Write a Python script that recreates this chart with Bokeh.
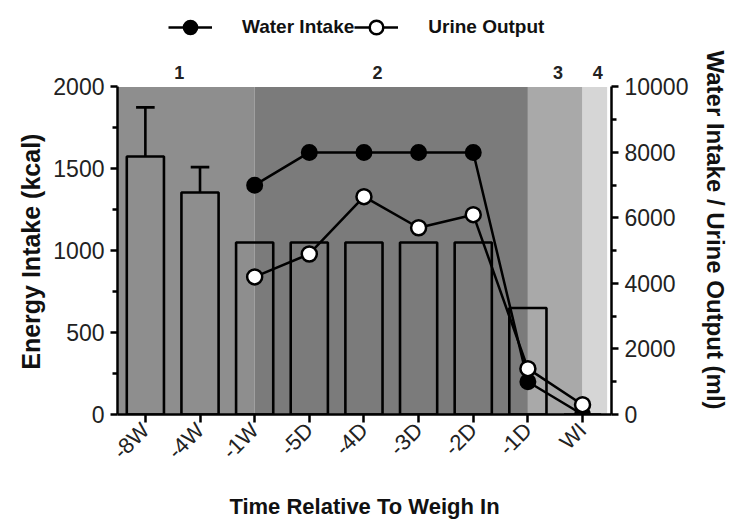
import math
from bokeh.plotting import figure
from bokeh.models import Range1d, LinearAxis, FixedTicker, Legend, LegendItem, Title
from bokeh.core.properties import value
from bokeh.embed import file_html
from bokeh.resources import INLINE

# ---------------- data ----------------
categories = ["-8W", "-4W", "-1W", "-5D", "-4D", "-3D", "-2D", "-1D", "WI"]
energy_kcal = [1575, 1355, 1050, 1050, 1050, 1050, 1050, 650, 0]
energy_err_top = [1875, 1510, None, None, None, None, None, None, None]
water_intake_ml = [None, None, 7000, 8000, 8000, 8000, 8000, 1000, 0]
urine_output_ml = [None, None, 4200, 4900, 6650, 5700, 6100, 1400, 300]

phase_labels = ["1", "2", "3", "4"]
phase_start = [-0.51, 2.0, 7.0, 8.0]   # category-index units
phase_end = [2.0, 7.0, 8.0, 8.45]
phase_label_at = [0.62, 4.25, 7.55, 8.28]
phase_colors = ["#8e8e8e", "#7b7b7b", "#a9a9a9", "#d6d6d6"]

left_max = 2000
right_max = 10000
left_ticks = [0, 500, 1000, 1500, 2000]
left_minor = [250, 750, 1250, 1750]
right_ticks = [0, 2000, 4000, 6000, 8000, 10000]
right_minor = [1000, 3000, 5000, 7000, 9000]

left_title = "Energy Intake (kcal)"
right_title = "Water Intake / Urine Output (ml)"

FONT = "Liberation Sans"

# layout: the frame is extended upwards so the legend and phase numbers sit inside it
PLOT_H = 330      # px between 0 and the axis maximum
FRAME_H = 412     # px of the whole frame
stretch = FRAME_H / PLOT_H
PAD_L = "\u00a0" * 12   # re-centres the side titles on the 0..max part of the frame
PAD_R = "\u00a0" * 6

xs = list(range(len(categories)))
nan = float("nan")
water = [nan if v is None else v for v in water_intake_ml]
urine = [nan if v is None else v for v in urine_output_ml]

p = figure(width=745, height=521, x_range=Range1d(-0.51, 8.53),
           y_range=Range1d(0, left_max * stretch),
           output_backend="svg", toolbar_location=None, title=None,
           min_border_left=117, min_border_right=134, min_border_top=5, min_border_bottom=104,
           outline_line_color=None, background_fill_color="white", border_fill_color="white")
p.extra_y_ranges = {"water": Range1d(0, right_max * stretch)}
p.grid.visible = False

# phase shading
p.quad(left=phase_start, right=phase_end, bottom=0, top=left_max,
       fill_color=phase_colors, line_color=None)

# phase numbers above the shading
p.text(x=phase_label_at, y=[left_max * (1 + 15 / PLOT_H)] * len(phase_labels), text=phase_labels,
       text_font=value(FONT), text_font_style="bold", text_font_size="18px",
       text_align="center", text_baseline="middle", text_color="#222222")

# bars (transparent)
p.vbar(x=xs, top=energy_kcal, width=0.68, fill_color=None, line_color="black", line_width=2.6)

# error bars
ex = [x for x, e in zip(xs, energy_err_top) if e is not None]
eb = [energy_kcal[x] for x in ex]
et = [e for e in energy_err_top if e is not None]
p.segment(x0=ex, y0=eb, x1=ex, y1=et, line_color="black", line_width=2.6)
p.segment(x0=[x - 0.17 for x in ex], y0=et, x1=[x + 0.17 for x in ex], y1=et,
          line_color="black", line_width=2.6)

# lines
wl = p.line(xs, water, y_range_name="water", line_color="black", line_width=2.5)
ws = p.scatter(xs, water, y_range_name="water", size=15, fill_color="black",
               line_color="black", line_width=2)
ul = p.line(xs, urine, y_range_name="water", line_color="black", line_width=2.5)
us = p.scatter(xs, urine, y_range_name="water", size=15, fill_color="white",
               line_color="black", line_width=2.5)

# axes styling
def style(ax):
    ax.axis_line_width = 2.5
    ax.axis_line_color = "black"
    ax.major_tick_line_width = 2.5
    ax.minor_tick_line_width = 2.5
    ax.major_tick_in = 0
    ax.minor_tick_in = 0
    ax.major_tick_out = 7
    ax.minor_tick_out = 5
    ax.major_label_text_font = FONT
    ax.major_label_text_font_size = "23px"
    ax.major_label_text_color = "#222222"
    ax.axis_label_text_font = FONT
    ax.axis_label_text_font_style = "bold"
    ax.axis_label_text_color = "#111111"

xa = p.xaxis[0]
style(xa)
xa.ticker = FixedTicker(ticks=xs)
xa.major_label_overrides = {i: c for i, c in enumerate(categories)}
xa.major_label_orientation = math.pi / 4
xa.major_label_text_font_size = "22px"
xa.minor_tick_line_color = None
xa.major_tick_out = 8
xa.major_label_standoff = 4
xa.axis_label = "Time Relative To Weigh In"
xa.axis_label_text_font_size = "22px"
xa.axis_label_standoff = 18

ya = p.yaxis[0]
style(ya)
ya.bounds = (0, left_max)
ya.ticker = FixedTicker(ticks=left_ticks, minor_ticks=left_minor)
ya.major_label_standoff = 6

ra = LinearAxis(y_range_name="water")
style(ra)
ra.bounds = (0, right_max)
ra.ticker = FixedTicker(ticks=right_ticks, minor_ticks=right_minor)
ra.major_label_standoff = 6
p.add_layout(ra, "right")

lt = Title(text=left_title + PAD_L, align="center", standoff=12,
           text_font=FONT, text_font_style="bold", text_font_size="25px", text_color="#111111")
p.add_layout(lt, "left")
rt = Title(text=PAD_R + right_title, align="center", standoff=20,
           text_font=FONT, text_font_style="bold", text_font_size="24px", text_color="#111111")
p.add_layout(rt, "right")

legend = Legend(items=[LegendItem(label="Water Intake", renderers=[wl, ws]),
                       LegendItem(label="Urine Output", renderers=[ul, us])],
                orientation="horizontal", location=(51, 370),
                glyph_width=44, glyph_height=34, label_standoff=30, spacing=0,
                padding=0, margin=0, background_fill_alpha=0, border_line_color=None,
                label_text_font=FONT, label_text_font_style="bold",
                label_text_font_size="19px", label_text_color="#111111")
p.add_layout(legend)

open("out.html", "w").write(file_html(p, INLINE))
